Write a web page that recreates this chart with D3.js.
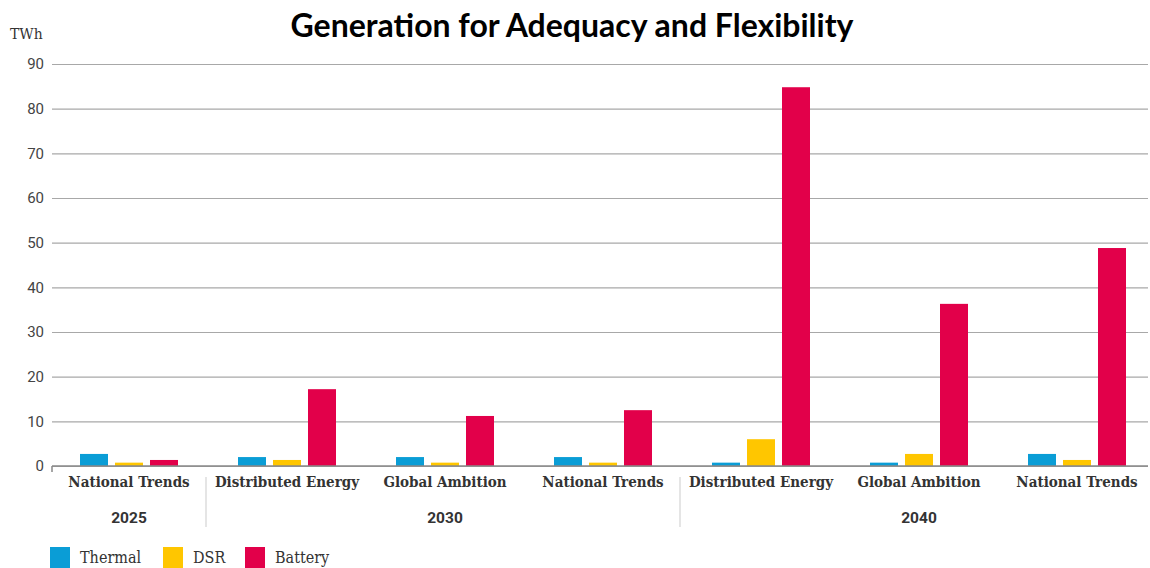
<!DOCTYPE html>
<html>
<head>
<meta charset="utf-8">
<script src="https://cdn.jsdelivr.net/npm/d3@7"></script>
<style>
  html, body { margin: 0; padding: 0; background: #fff; }
  svg { display: block; }
</style>
</head>
<body>
<svg id="chart" width="1150" height="568"></svg>
<script>
// Scenario categories along the x axis, in drawing order
const categories = ["National Trends", "Distributed Energy", "Global Ambition", "National Trends",
                    "Distributed Energy", "Global Ambition", "National Trends"];
// Year each scenario belongs to
const yearOf = ["2025", "2030", "2030", "2030", "2040", "2040", "2040"];
const years = ["2025", "2030", "2040"];

// Generation values (TWh)
const thermal = [2.7, 2.0, 2.0, 2.0, 0.75, 0.75, 2.7];
const dsr     = [0.75, 1.35, 0.75, 0.75, 6.0, 2.7, 1.35];
const battery = [1.35, 17.2, 11.2, 12.5, 84.8, 36.3, 48.8];

const seriesNames = ["Thermal", "DSR", "Battery"];
const seriesColors = ["#0a9dd6", "#ffc600", "#e2004a"];
const seriesValues = [thermal, dsr, battery];

const yTicks = [0, 10, 20, 30, 40, 50, 60, 70, 80, 90];

const svg = d3.select("#chart");
const plotLeft = 52, plotRight = 1148, plotTop = 64, plotBottom = 466;
const slab = "'DejaVu Serif Condensed', 'DejaVu Serif', serif";

// Scenario bands (slightly wider than the gridded area, as in the layout)
const x0 = d3.scaleBand().domain(d3.range(categories.length)).range([50, 1156]).padding(0);
const x1 = d3.scaleBand().domain(seriesNames).range([0, 98]).paddingInner(0.2).paddingOuter(0);
const y = d3.scaleLinear().domain([0, 90]).range([plotBottom, plotTop]);

// Title
svg.append("text")
  .attr("x", 572).attr("y", 37)
  .attr("text-anchor", "middle")
  .attr("font-family", "Lato, 'Open Sans', sans-serif")
  .attr("font-weight", "bold")
  .attr("font-size", 32)
  .attr("fill", "#000")
  .text("Generation for Adequacy and Flexibility");

// Unit label
svg.append("text")
  .attr("x", 10).attr("y", 39)
  .attr("font-family", slab)
  .attr("font-size", 15.5)
  .attr("fill", "#333")
  .text("TWh");

// Gridlines + y tick labels
const yAxis = d3.axisLeft(y).tickValues(yTicks).tickSize(-(plotRight - plotLeft)).tickPadding(8).tickFormat(d3.format("d"));
const gy = svg.append("g").attr("transform", `translate(${plotLeft},0)`).call(yAxis);
gy.select(".domain").remove();
gy.selectAll(".tick line").attr("stroke", "#a8a8a8").attr("stroke-width", 1.2);
gy.selectAll(".tick text")
  .attr("font-family", "Roboto, sans-serif")
  .attr("font-size", 15)
  .attr("fill", "#444");

// Bars
const groups = svg.append("g").selectAll("g")
  .data(categories.map((c, i) => i))
  .join("g")
  .attr("transform", i => `translate(${x0(i) + (x0.bandwidth() - 98) / 2},0)`);

groups.selectAll("rect")
  .data(i => seriesNames.map((s, k) => ({ s, v: seriesValues[k][i], c: seriesColors[k] })))
  .join("rect")
  .attr("x", d => x1(d.s))
  .attr("width", x1.bandwidth())
  .attr("y", d => y(d.v))
  .attr("height", d => y(0) - y(d.v))
  .attr("fill", d => d.c);

// Baseline axis
svg.append("line")
  .attr("x1", plotLeft).attr("x2", plotRight)
  .attr("y1", y(0)).attr("y2", y(0))
  .attr("stroke", "#888").attr("stroke-width", 1.5);
svg.append("line")
  .attr("x1", plotLeft).attr("x2", plotLeft)
  .attr("y1", y(0)).attr("y2", y(0) + 6)
  .attr("stroke", "#888").attr("stroke-width", 1.5);

// Category labels
svg.append("g").selectAll("text")
  .data(categories)
  .join("text")
  .attr("x", (d, i) => x0(i) + x0.bandwidth() / 2)
  .attr("y", 487)
  .attr("text-anchor", "middle")
  .attr("font-family", slab)
  .attr("font-weight", "bold")
  .attr("font-size", 15)
  .attr("fill", "#333")
  .text(d => d);

// Year labels centred under their scenario groups, with separators between years
years.forEach((yr, j) => {
  const idx = yearOf.map((v, i) => v === yr ? i : -1).filter(i => i >= 0);
  const xStart = x0(idx[0]);
  const xEnd = x0(idx[idx.length - 1]) + x0.bandwidth();
  svg.append("text")
    .attr("x", (xStart + xEnd) / 2)
    .attr("y", 523)
    .attr("text-anchor", "middle")
    .attr("font-family", "Roboto, sans-serif")
    .attr("font-weight", "bold")
    .attr("font-size", 15.5)
    .attr("fill", "#333")
    .text(yr);
  if (j > 0) {
    svg.append("line")
      .attr("x1", xStart - 2).attr("x2", xStart - 2)
      .attr("y1", 477).attr("y2", 527)
      .attr("stroke", "#ddd").attr("stroke-width", 1.5);
  }
});

// Legend
const legendX = [50, 163, 245];
const legend = svg.append("g").selectAll("g")
  .data(seriesNames)
  .join("g")
  .attr("transform", (d, i) => `translate(${legendX[i]},547)`);
legend.append("rect")
  .attr("width", 20).attr("height", 21)
  .attr("fill", (d, i) => seriesColors[i]);
legend.append("text")
  .attr("x", 30).attr("y", 16)
  .attr("font-family", slab)
  .attr("font-size", 16)
  .attr("fill", "#333")
  .text(d => d);
</script>
</body>
</html>
